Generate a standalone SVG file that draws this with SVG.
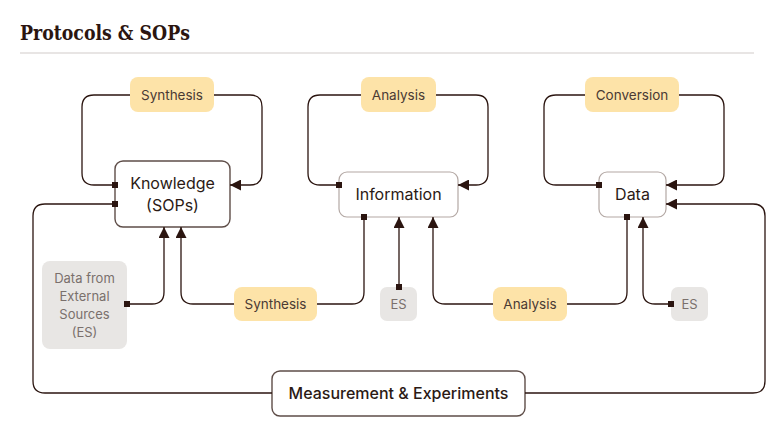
<svg xmlns="http://www.w3.org/2000/svg" width="774" height="446" viewBox="0 0 774 446">
<defs>
<style>
.title{font-family:"DejaVu Serif","Liberation Serif",serif;font-weight:bold;font-size:20.5px;fill:#2b1510}
.node{fill:#fff;stroke:#5e4d48;stroke-width:1.4}
.nodel{fill:#fff;stroke:#b3a8a4;stroke-width:1.2}
.lbl{fill:#fde3a8}
.es{fill:#e8e6e4}
.nt{font-family:Inter,"Noto Sans",sans-serif;font-size:16px;fill:#2b1a15;text-anchor:middle}
.lt{font-family:Inter,"Noto Sans",sans-serif;font-size:13.5px;fill:#4a3a34;text-anchor:middle}
.et{font-family:Inter,"Noto Sans",sans-serif;font-size:13px;fill:#7a706c;text-anchor:middle}
.c{fill:none;stroke:#2b1510;stroke-width:1.3}
</style>
<marker id="arr" viewBox="0 0 10 10" refX="10" refY="5" markerWidth="11" markerHeight="11" markerUnits="userSpaceOnUse" orient="auto">
<path d="M0,0 L10,5 L0,10 Z" fill="#2b1510"/>
</marker>
<marker id="sq" viewBox="0 0 6 6" refX="3" refY="3" markerWidth="6" markerHeight="6" markerUnits="userSpaceOnUse" orient="auto">
<rect x="0" y="0" width="6" height="6" fill="#2b1510"/>
</marker>
</defs>
<rect width="774" height="446" fill="#fff"/>
<text class="title" x="20" y="39.5" textLength="170" lengthAdjust="spacingAndGlyphs">Protocols &amp; SOPs</text>
<line x1="20" y1="53" x2="754" y2="53" stroke="#e0dddb" stroke-width="1.5"/>

<g id="knowledge">
<rect class="node" x="115" y="161" width="115" height="66" rx="8"/>
<text class="nt" x="172.5" y="189">Knowledge</text>
<text class="nt" x="172.5" y="211">(SOPs)</text>
</g>
<g id="information">
<rect class="nodel" x="339" y="172" width="119" height="45" rx="8"/>
<text class="nt" x="398.5" y="200">Information</text>
</g>
<g id="data">
<rect class="nodel" x="599" y="172" width="67" height="45" rx="8"/>
<text class="nt" x="632.5" y="200">Data</text>
</g>
<g id="synthesis-top">
<rect class="lbl" x="130" y="77" width="84" height="35" rx="8"/>
<text class="lt" x="172" y="99.5">Synthesis</text>
</g>
<g id="analysis-top">
<rect class="lbl" x="361" y="77" width="75" height="35" rx="8"/>
<text class="lt" x="398.5" y="99.5">Analysis</text>
</g>
<g id="conversion-top">
<rect class="lbl" x="585" y="77" width="94" height="35" rx="8"/>
<text class="lt" x="632" y="99.5">Conversion</text>
</g>
<g id="external-sources">
<rect class="es" x="42" y="261" width="85" height="88" rx="8"/>
<text class="et" x="84.5" y="283">Data from</text>
<text class="et" x="84.5" y="301">External</text>
<text class="et" x="84.5" y="319">Sources</text>
<text class="et" x="84.5" y="337">(ES)</text>
</g>
<g id="synthesis-bottom">
<rect class="lbl" x="234" y="287" width="83" height="34" rx="8"/>
<text class="lt" x="275.5" y="308.5">Synthesis</text>
</g>
<g id="es-info">
<rect class="es" x="380" y="287" width="37" height="34" rx="7"/>
<text class="et" x="398.5" y="308.5">ES</text>
</g>
<g id="analysis-bottom">
<rect class="lbl" x="493" y="287" width="74" height="34" rx="8"/>
<text class="lt" x="530" y="308.5">Analysis</text>
</g>
<g id="es-data">
<rect class="es" x="671" y="287" width="37" height="34" rx="7"/>
<text class="et" x="689.5" y="308.5">ES</text>
</g>
<g id="measurement">
<rect class="node" x="272" y="371" width="253" height="45" rx="8"/>
<text class="nt" x="398.5" y="399" font-weight="500">Measurement &amp; Experiments</text>
</g>

<g id="connectors">
<path class="c" d="M115,185 H94 Q82,185 82,173 V107 Q82,95 94,95 H130" marker-start="url(#sq)"/>
<path class="c" d="M214,95 H250 Q262,95 262,107 V173 Q262,185 250,185 H230" marker-end="url(#arr)"/>
<path class="c" d="M339,185 H320 Q308,185 308,173 V107 Q308,95 320,95 H361" marker-start="url(#sq)"/>
<path class="c" d="M436,95 H476 Q488,95 488,107 V173 Q488,185 476,185 H458" marker-end="url(#arr)"/>
<path class="c" d="M599,185 H556 Q544,185 544,173 V107 Q544,95 556,95 H585" marker-start="url(#sq)"/>
<path class="c" d="M679,95 H712 Q724,95 724,107 V173 Q724,185 712,185 H666" marker-end="url(#arr)"/>
<path class="c" d="M115,204 H45 Q33,204 33,216 V381 Q33,393 45,393 H272" marker-start="url(#sq)"/>
<path class="c" d="M525,393 H753 Q765,393 765,381 V216 Q765,204 753,204 H666" marker-end="url(#arr)"/>
<path class="c" d="M127,304 H152 Q164,304 164,292 V227" marker-start="url(#sq)" marker-end="url(#arr)"/>
<path class="c" d="M234,304 H193 Q181,304 181,292 V227" marker-end="url(#arr)"/>
<path class="c" d="M364,217 V292 Q364,304 352,304 H317" marker-start="url(#sq)"/>
<path class="c" d="M399,287 V217" marker-start="url(#sq)" marker-end="url(#arr)"/>
<path class="c" d="M493,304 H445 Q433,304 433,292 V217" marker-end="url(#arr)"/>
<path class="c" d="M627,217 V292 Q627,304 615,304 H567" marker-start="url(#sq)"/>
<path class="c" d="M671,304 H655 Q643,304 643,292 V217" marker-start="url(#sq)" marker-end="url(#arr)"/>
</g>
</svg>
